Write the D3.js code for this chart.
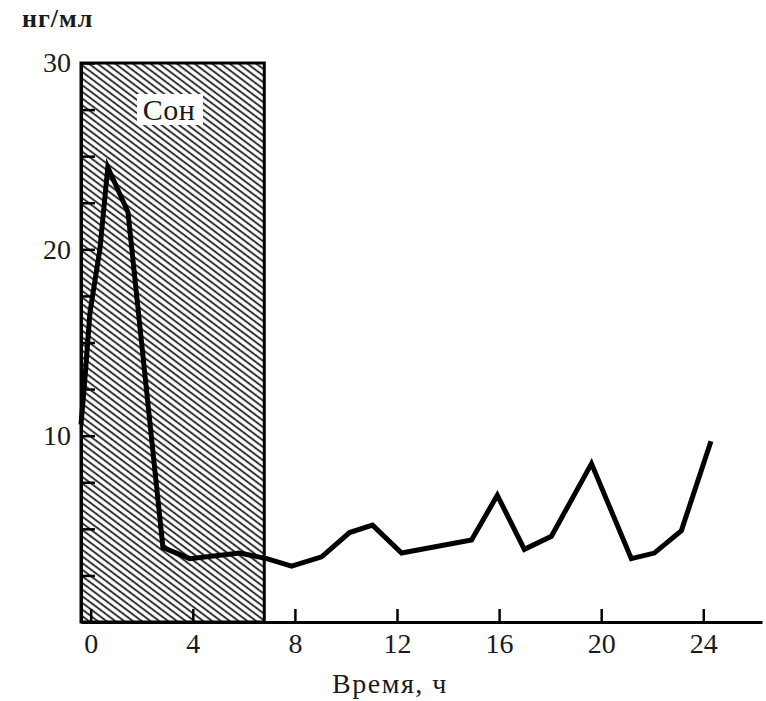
<!DOCTYPE html>
<html>
<head>
<meta charset="utf-8">
<script src="https://cdn.jsdelivr.net/npm/d3@7/dist/d3.min.js"></script>
<style>
  body { margin: 0; background: #fff; }
  svg text { font-family: "Liberation Serif", "Times New Roman", serif; fill: #1a1a1a; }
</style>
</head>
<body>
<script>
// hours and hormone level (ng/ml)
var hours  = [-0.38, -0.23, -0.03, 0.36, 0.67, 1.46, 2.83, 3.88, 5.84, 6.9, 7.87, 9.05, 10.14, 11.04, 12.18, 14.92, 15.93, 16.99, 18.05, 19.62, 21.18, 22.08, 23.14, 24.3];
var values = [10.6, 13.0, 16.6, 20.0, 24.4, 22.0, 4.0, 3.4, 3.7, 3.4, 3.0, 3.5, 4.8, 5.2, 3.7, 4.4, 6.8, 3.9, 4.6, 8.5, 3.4, 3.7, 4.9, 9.7];
var xTicks = [0, 4, 8, 12, 16, 20, 24];
var yTicks = [2.5, 5, 7.5, 10, 12.5, 15, 17.5, 20, 22.5, 25, 27.5, 30];
var yLabels = [10, 20, 30];
var sleepEnd = 6.8;   // end of the sleep band, hours
var sleepLabel = "Сон";
var yTitle = "нг/мл";
var xTitle = "Время, ч";

var width = 766, height = 701;

var svg = d3.select("body").append("svg")
    .attr("width", width)
    .attr("height", height);

svg.append("rect").attr("width", width).attr("height", height).attr("fill", "#fff");

var x = d3.scaleLinear().domain([-0.38, 26.3]).range([81, 762]);
var y = d3.scaleLinear().domain([0, 30]).range([622, 63]);

//diagonal hatching for the sleep band
var defs = svg.append("defs");
var pat = defs.append("pattern")
    .attr("id", "hatch")
    .attr("patternUnits", "userSpaceOnUse")
    .attr("width", 10)
    .attr("height", 5.3)
    .attr("patternTransform", "rotate(37)");
pat.append("line")
    .attr("x1", 0).attr("y1", 2.65).attr("x2", 10).attr("y2", 2.65)
    .attr("stroke", "#333")
    .attr("stroke-width", 2);

svg.append("rect")
    .attr("x", x(-0.38))
    .attr("y", y(30))
    .attr("width", x(sleepEnd) - x(-0.38))
    .attr("height", y(0) - y(30))
    .attr("fill", "url(#hatch)")
    .attr("stroke", "#000")
    .attr("stroke-width", 3);

//white patch behind the label
svg.append("rect")
    .attr("x", 137).attr("y", 94)
    .attr("width", 66).attr("height", 31)
    .attr("fill", "#fff");
svg.append("text")
    .attr("x", 169).attr("y", 120)
    .attr("text-anchor", "middle")
    .style("font-size", "30px")
    .style("letter-spacing", "0.5px")
    .text(sleepLabel);

//axes
var xAxis = d3.axisBottom(x)
    .tickValues(xTicks)
    .tickSizeInner(-13)
    .tickSizeOuter(0)
    .tickPadding(10);
var gx = svg.append("g")
    .attr("transform", "translate(0," + y(0) + ")")
    .call(xAxis);

var yAxis = d3.axisLeft(y)
    .tickValues(yTicks)
    .tickSizeInner(-14)
    .tickSizeOuter(0)
    .tickPadding(10)
    .tickFormat(function(d){ return yLabels.indexOf(d) >= 0 ? d : ""; });
var gy = svg.append("g")
    .attr("transform", "translate(" + x(-0.38) + ",0)")
    .call(yAxis);

[gx, gy].forEach(function(g){
    g.select(".domain").attr("stroke", "#000").attr("stroke-width", 3);
    g.selectAll(".tick line").attr("stroke", "#000").attr("stroke-width", 2.5);
    g.selectAll(".tick text")
        .attr("fill", "#1a1a1a")
        .style("font-family", "'Liberation Serif', 'Times New Roman', serif")
        .style("font-size", "28px");
});
gx.selectAll(".tick text").attr("dy", "0.75em");

//the curve
var line = d3.line()
    .x(function(d){ return x(d[0]); })
    .y(function(d){ return y(d[1]); });

svg.append("path")
    .datum(d3.zip(hours, values))
    .attr("d", line)
    .attr("fill", "none")
    .attr("stroke", "#000")
    .attr("stroke-width", 5)
    .attr("stroke-linejoin", "miter")
    .attr("stroke-linecap", "butt");

//titles
svg.append("text")
    .attr("x", 22).attr("y", 27)
    .style("font-size", "26px")
    .style("font-weight", "bold")
    .style("letter-spacing", "1px")
    .text(yTitle);

svg.append("text")
    .attr("x", 390).attr("y", 693)
    .attr("text-anchor", "middle")
    .style("font-size", "28px")
    .style("letter-spacing", "1.5px")
    .text(xTitle);
</script>
</body>
</html>
